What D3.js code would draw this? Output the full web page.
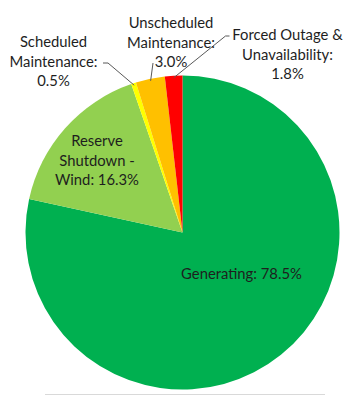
<!DOCTYPE html>
<html><head><meta charset="utf-8">
<script src="https://cdn.jsdelivr.net/npm/d3@7/dist/d3.min.js"></script>
<style>html,body{margin:0;padding:0;background:#fff;}svg{display:block;}</style>
</head><body>
<svg id="chart" width="350" height="395"></svg>
<script>
// Data
const categories = ["Generating", "Reserve Shutdown - Wind", "Scheduled Maintenance", "Unscheduled Maintenance", "Forced Outage & Unavailability"];
const values = [78.5, 16.3, 0.5, 3.0, 1.8];
const labelLines = [
  ["Generating: 78.5%"],
  ["Reserve", "Shutdown -", "Wind: 16.3%"],
  ["Scheduled", "Maintenance:", "0.5%"],
  ["Unscheduled", "Maintenance:", "3.0%"],
  ["Forced Outage &", "Unavailability:", "1.8%"]
];
const colors = ["#00B050", "#92D050", "#FFFF00", "#FFC000", "#FF0000"];

// Layout (label centers relative to svg, first line)
const labelPos = [[241.5, 273], [97, 140], [53.5, 41], [171, 22], [287.5, 34]];
const lineH = 19.5;

const svg = d3.select("#chart");
const cx = 182.5, cy = 232.5, r = 157;

const pie = d3.pie().sort(null).value(d => d);
const arcs = pie(values);
const arc = d3.arc().innerRadius(0).outerRadius(r);

const g = svg.append("g").attr("transform", `translate(${cx},${cy})`);
g.selectAll("path").data(arcs).join("path")
  .attr("d", arc)
  .attr("fill", (d, i) => colors[i]);

// leader lines: from label toward slice outer edge (mid-angle)
const edge = d3.arc().innerRadius(r - 2).outerRadius(r - 2);
function edgePt(i) { const c = edge.centroid(arcs[i]); return [cx + c[0], cy + c[1]]; }
const leaders = [
  [[103, 63], [108, 63], edgePt(2)],
  [[153, 63], edgePt(3)],
  [[229.5, 36], [225.5, 36], edgePt(4)]
];
svg.selectAll("polyline.leader").data(leaders).join("polyline")
  .attr("class", "leader")
  .attr("points", d => d.map(p => p.join(",")).join(" "))
  .attr("fill", "none")
  .attr("stroke", "#595959")
  .attr("stroke-width", 1);

// labels
const tg = svg.selectAll("text.lbl").data(labelLines).join("text")
  .attr("class", "lbl")
  .attr("text-anchor", "middle")
  .attr("font-family", "Lato, 'Open Sans', sans-serif")
  .attr("font-size", 14.8)
  .attr("fill", "#1e1e1e");
tg.each(function(lines, i) {
  const t = d3.select(this);
  lines.forEach((ln, k) => {
    t.append("tspan")
      .attr("x", labelPos[i][0])
      .attr("y", labelPos[i][1] + k * lineH)
      .attr("dominant-baseline", "central")
      .text(ln);
  });
});

// faint bottom rule
svg.append("line").attr("x1", 45).attr("x2", 325).attr("y1", 394.5).attr("y2", 394.5)
  .attr("stroke", "#d9d9d9").attr("stroke-width", 1);
</script>
</body></html>
